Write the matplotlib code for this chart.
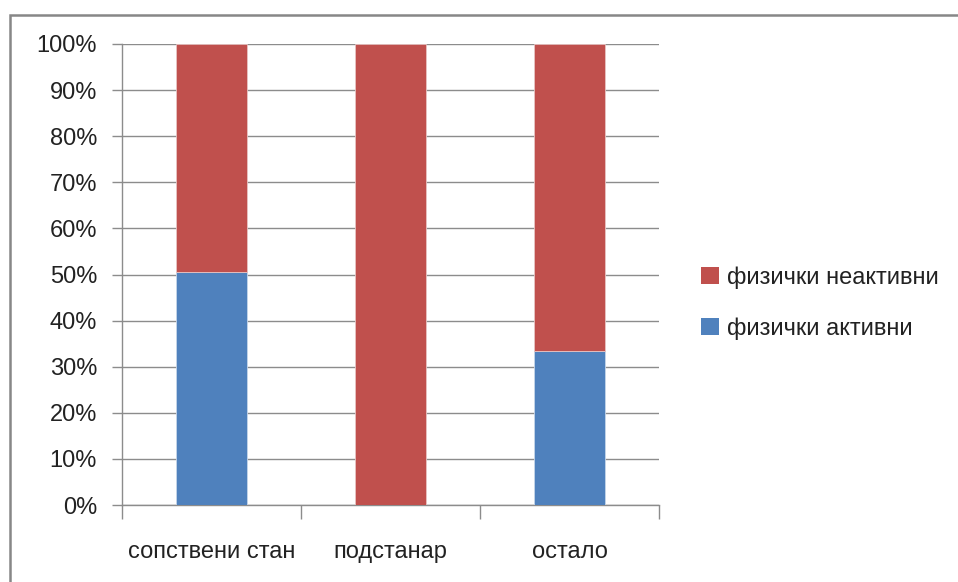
import matplotlib

matplotlib.use("Agg")
import matplotlib.pyplot as plt  # noqa: E402
import numpy as np  # noqa: E402
from matplotlib.patches import Patch, Rectangle  # noqa: E402
from matplotlib.ticker import FuncFormatter, MultipleLocator  # noqa: E402

categories = ["сопствени стан", "подстанар", "остало"]
active_share = [50.6, 0.0, 33.3]
inactive_share = [49.4, 100.0, 66.7]
series_labels = ["физички активни", "физички неактивни"]

BLUE = "#4F81BD"
RED = "#C0504D"
GRID = "#8C8C8C"
TEXT = "#222222"
FONT_SIZE = 17

plt.rcParams["font.family"] = ["Liberation Sans", "DejaVu Sans"]

fig = plt.figure(figsize=(9.58, 5.82), dpi=100)
ax = fig.add_axes([122 / 958, 1 - 505 / 582, 537 / 958, 461 / 582])

x = np.arange(len(categories))
width = 0.40
ax.bar(x, active_share, width, color=BLUE, edgecolor="#C6D6EA", linewidth=0.6, zorder=3)
ax.bar(x, inactive_share, width, bottom=active_share, color=RED,
       edgecolor="#E8C4C3", linewidth=0.6, zorder=3)

ax.set_xlim(-0.5, len(categories) - 0.5)
ax.set_ylim(0, 100)
ax.yaxis.set_major_locator(MultipleLocator(10))
ax.yaxis.set_major_formatter(FuncFormatter(lambda v, _: f"{v:.0f}%"))
ax.grid(axis="y", color=GRID, linewidth=1.0, zorder=0)

ax.set_xticks(x, categories)
ax.set_xticks(np.arange(len(categories) + 1) - 0.5, minor=True)
ax.tick_params(axis="x", which="major", length=0, pad=26, labelsize=FONT_SIZE, labelcolor=TEXT)
ax.tick_params(axis="x", which="minor", length=10, width=1.0, color=GRID)
ax.tick_params(axis="y", length=7, width=1.0, color=GRID, pad=11, labelsize=FONT_SIZE,
               labelcolor=TEXT)

for side in ("top", "right"):
    ax.spines[side].set_visible(False)
for side in ("left", "bottom"):
    ax.spines[side].set_color(GRID)
    ax.spines[side].set_linewidth(1.0)

handles = [Patch(facecolor=RED, edgecolor="none"), Patch(facecolor=BLUE, edgecolor="none")]
fig.legend(handles, [series_labels[1], series_labels[0]], loc="center left",
           bbox_to_anchor=(680 / 958, 1 - 303 / 582), frameon=False, fontsize=FONT_SIZE,
           handlelength=0.75, handleheight=0.75, handletextpad=0.35, labelspacing=1.2,
           labelcolor=TEXT)

# outer chart frame, open on the right and bottom edges
fig.patches.append(Rectangle((9.5 / 958, -0.05), 1.2, 1 - 14.5 / 582 + 0.05,
                             transform=fig.transFigure, fill=False,
                             edgecolor="#878787", linewidth=1.8))

fig.savefig("out.png", dpi=100)
